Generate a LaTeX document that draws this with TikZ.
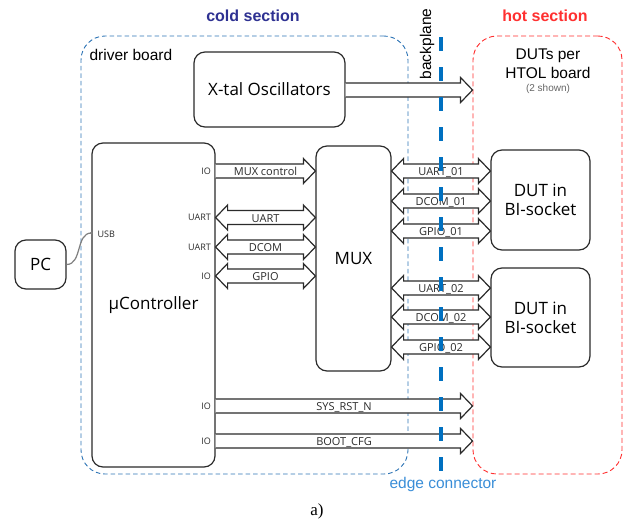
\documentclass[tikz,border=0pt]{standalone}
\usepackage{fontspec}
\setmainfont{Liberation Sans}
\newfontfamily\boxfont{Open Sans}
\newfontfamily\capfont{Liberation Serif}
\usetikzlibrary{calc}

\definecolor{coldblue}{HTML}{2E75B6}
\definecolor{coldtitle}{HTML}{2E3192}
\definecolor{hotred}{HTML}{FF3030}
\definecolor{bpblue}{HTML}{0070C0}
\definecolor{edgeblue}{HTML}{3A8ED8}
\definecolor{linegray}{HTML}{2B2B2B}

% fat double-headed bus: name, from, to, label
\newcommand{\busarrow}[4]{%
  \draw[fat] let \p1=(#2), \p2=(#3) in
    (\x1,\y1) -- (\x1+12pt,\y1+12.5pt) -- (\x1+12pt,\y1+7pt)
    -- (\x2-12pt,\y2+7pt) -- (\x2-12pt,\y2+12.5pt) -- (\x2,\y2)
    -- (\x2-12pt,\y2-12.5pt) -- (\x2-12pt,\y2-7pt)
    -- (\x1+12pt,\y1-7pt) -- (\x1+12pt,\y1-12.5pt) -- cycle;
  \node[siglabel] (#1) at ($(#2)!0.5!(#3)+(0,4.5)$) {#4};}

% fat single-headed signal, tail sits on a box edge
\newcommand{\sigarrow}[4]{%
  \draw[fat] let \p1=(#2), \p2=(#3) in
    (\x1,\y1+7pt) -- (\x2-12pt,\y2+7pt) -- (\x2-12pt,\y2+12.5pt) -- (\x2,\y2)
    -- (\x2-12pt,\y2-12.5pt) -- (\x2-12pt,\y2-7pt) -- (\x1,\y1-7pt);
  \node[siglabel] (#1) at ($(#2)!0.5!(#3)+(0,4.5)$) {#4};}

\begin{document}
\begin{tikzpicture}[x=1pt, y=-1pt,
  box/.style={draw=linegray, line width=1.2pt, rounded corners=11pt, align=center,
    inner sep=0pt, font=\boxfont\fontsize{17}{19}\selectfont},
  coldframe/.style={draw=coldblue, line width=0.9pt, dash pattern=on 4.5pt off 3pt,
    rounded corners=24pt, inner sep=0pt},
  hotframe/.style={draw=hotred, line width=0.9pt, dash pattern=on 5pt off 3pt,
    rounded corners=24pt, inner sep=0pt},
  fat/.style={draw=linegray, fill=white, line width=1.2pt, line join=miter},
  siglabel/.style={anchor=base, inner sep=0pt, text=linegray,
    font=\boxfont\fontsize{11}{12}\selectfont},
  port/.style={anchor=east, inner sep=0pt, text=linegray,
    font=\boxfont\fontsize{9}{10}\selectfont},
  title/.style={font=\bfseries\fontsize{16}{19}\selectfont},
  note/.style={align=center, font=\fontsize{15.5}{19}\selectfont},
  bpline/.style={draw=bpblue, line width=3.6pt, dash pattern=on 14pt off 16pt}]

\fill[white] (0,0) rectangle (633,523);
\useasboundingbox (0,0) rectangle (633,523);

% sections
\node[coldframe, minimum width=327pt, minimum height=438pt] (cold) at (244.5,255) {};
\node[hotframe, minimum width=149pt, minimum height=438pt] (hot) at (547.5,255) {};
\node[title, text=coldtitle] (coldtxt) at (253,16) {cold section};
\node[title, text=hotred] (hottxt) at (545,16) {hot section};
\node[note, anchor=west] (drv) at (86,55) {driver board};
\node[note] (duts) at (548,63.5) {DUTs per\\HTOL board};
\node[font=\fontsize{10}{11}\selectfont, text=black!60] (shown) at (548,89) {(2 shown)};

% boxes
\node[box, minimum width=151pt, minimum height=75pt] (xtal) at (269.5,89.5) {X-tal Oscillators};
\node[box, minimum width=123pt, minimum height=324pt] (uc) at (153.5,305) {µController};
\node[box, minimum width=51pt, minimum height=49pt] (pc) at (40.5,264.5) {PC};
\node[box, minimum width=75pt, minimum height=225pt] (mux) at (353.5,258.5) {MUX};
\node[box, minimum width=99pt, minimum height=100pt] (dut1) at (540.5,200) {DUT in\\BI-socket};
\node[box, minimum width=99pt, minimum height=99pt] (dut2) at (540.5,317.5) {DUT in\\BI-socket};

% USB link
\coordinate (usb) at (uc.west |- 0,233);
\draw[gray, line width=1.2pt] (pc.east) to[out=0, in=180] (usb);
\fill[gray] (usb) circle (1.6);
\node[port, anchor=west] (usbtxt) at ($(usb)+(6,1)$) {USB};

% clock out to the hot side
\sigarrow{xt}{xtal.east |- 0,90}{hot.west |- 0,90}{}

% controller to mux
\sigarrow{mc}{uc.east |- 0,171}{mux.west |- 0,171}{MUX control}
\foreach \row/\txt [count=\i] in {217.5/UART, 247/DCOM, 276/GPIO}
  \busarrow{cm\i}{uc.east |- 0,\row}{mux.west |- 0,\row}{\txt};

% mux to the sockets
\foreach \row/\txt [count=\i] in {171/UART\_01, 201/DCOM\_01, 231/GPIO\_01}
  \busarrow{ma\i}{mux.east |- 0,\row}{dut1.west |- 0,\row}{\txt};
\foreach \row/\txt [count=\i] in {288/UART\_02, 317/DCOM\_02, 347/GPIO\_02}
  \busarrow{mb\i}{mux.east |- 0,\row}{dut2.west |- 0,\row}{\txt};

% controller straight to the hot side
\sigarrow{rst}{uc.east |- 0,406}{hot.west |- 0,406}{SYS\_RST\_N}
\sigarrow{boot}{uc.east |- 0,441}{hot.west |- 0,441}{BOOT\_CFG}

% pin names on the controller
\foreach \row/\pin [count=\i] in {171/IO, 217.5/UART, 247/UART, 276/IO, 406/IO, 441/IO}
  \node[port] (pin\i) at (211,\row) {\pin};

% backplane
\coordinate (bptop) at (441,37);
\coordinate (bpbot) at (441,471);
\draw[bpline] (bptop) -- (bpbot);
\node[note, rotate=90] (bptxt) at (427,44) {backplane};
\node[note, text=edgeblue] (edge) at (443,484) {edge connector};

\node[font=\capfont\fontsize{17}{20}\selectfont] (cap) at (317,511) {a)};
\end{tikzpicture}
\end{document}
